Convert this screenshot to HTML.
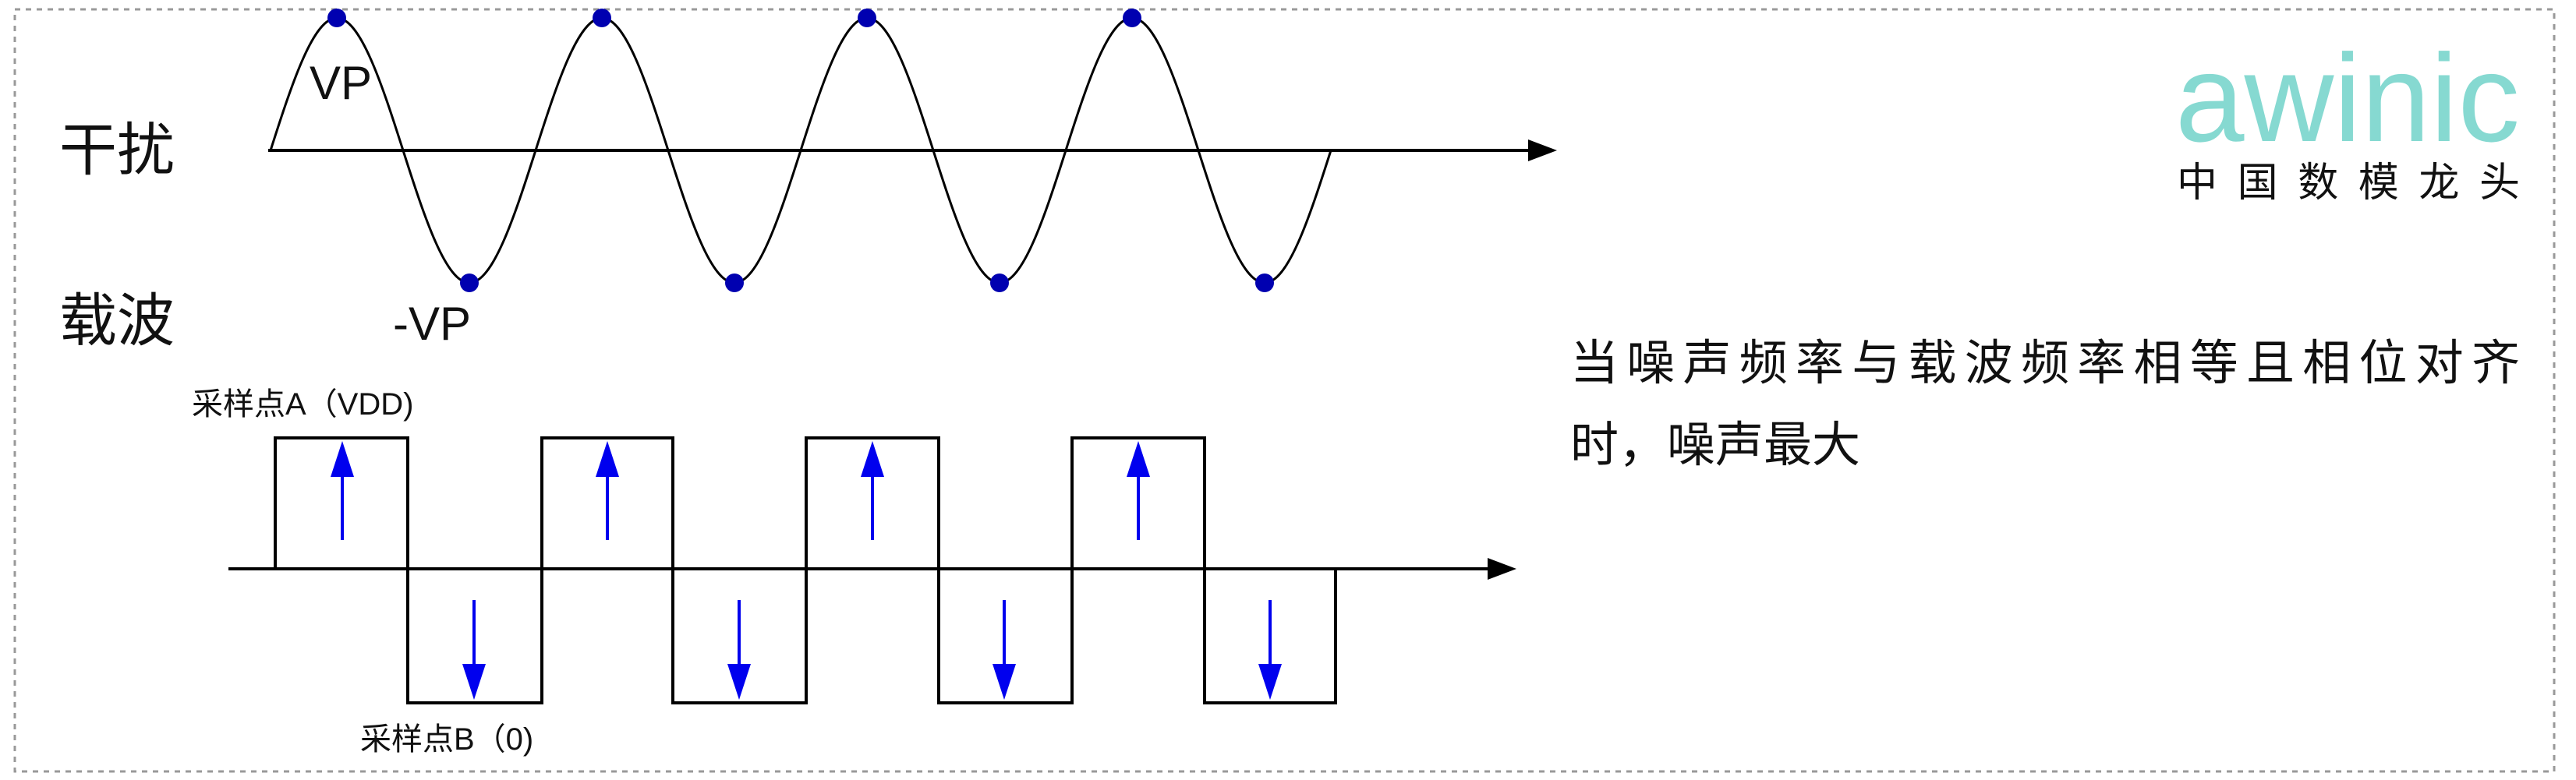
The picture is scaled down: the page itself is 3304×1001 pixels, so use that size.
<!DOCTYPE html>
<html><head><meta charset="utf-8"><style>
html,body{margin:0;padding:0;background:#fff;}
svg{display:block;}
</style></head><body>
<svg width="3304" height="1001" viewBox="0 0 3304 1001" xmlns="http://www.w3.org/2000/svg">
<rect x="19" y="12" width="3257" height="978" fill="none" stroke="#999" stroke-width="3" stroke-dasharray="7 7"/>
<!-- sine axis -->
<line x1="344" y1="193" x2="1965" y2="193" stroke="#000" stroke-width="4"/>
<polygon points="1997,193 1960,179 1960,207" fill="#000"/>
<path d="M347,193
c27.8,-87.2 55.1,-170 85,-170 c29.9,0 57.2,82.8 85,170 c27.8,87.2 55.1,170 85,170 c29.9,0 57.2,-82.8 85,-170
c27.8,-87.2 55.1,-170 85,-170 c29.9,0 57.2,82.8 85,170 c27.8,87.2 55.1,170 85,170 c29.9,0 57.2,-82.8 85,-170
c27.8,-87.2 55.1,-170 85,-170 c29.9,0 57.2,82.8 85,170 c27.8,87.2 55.1,170 85,170 c29.9,0 57.2,-82.8 85,-170
c27.8,-87.2 55.1,-170 85,-170 c29.9,0 57.2,82.8 85,170 c27.8,87.2 55.1,170 85,170 c29.9,0 57.2,-82.8 85,-170"
 fill="none" stroke="#000" stroke-width="3"/>
<g fill="#0000b0">
<circle cx="432" cy="23" r="12"/><circle cx="772" cy="23" r="12"/><circle cx="1112" cy="23" r="12"/><circle cx="1452" cy="23" r="12"/>
<circle cx="602" cy="363" r="12"/><circle cx="942" cy="363" r="12"/><circle cx="1282" cy="363" r="12"/><circle cx="1622" cy="363" r="12"/>
</g>
<g font-family="'Liberation Sans','Noto Sans CJK SC',sans-serif" fill="#111">
<text x="76" y="218" font-size="74">干扰</text>
<text x="76" y="437" font-size="74">载波</text>
<text x="397" y="127" font-size="60">VP</text>
<text x="504" y="436" font-size="60">-VP</text>
<text x="246" y="532" font-size="40">采样点A（VDD)</text>
<text x="462" y="962" font-size="40">采样点B（0)</text>
</g>
<!-- square wave -->
<line x1="293" y1="730" x2="1915" y2="730" stroke="#000" stroke-width="4"/>
<polygon points="1945,730 1908,716 1908,744" fill="#000"/>
<path d="M353,730 V562 H523 V902 H695 V562 H863 V902 H1034 V562 H1204 V902 H1375 V562 H1545 V902 H1713 V730" fill="none" stroke="#000" stroke-width="4"/>
<g stroke="#0000ee" stroke-width="4">
<line x1="439" y1="693" x2="439" y2="600"/><line x1="779" y1="693" x2="779" y2="600"/><line x1="1119" y1="693" x2="1119" y2="600"/><line x1="1460" y1="693" x2="1460" y2="600"/>
<line x1="608" y1="770" x2="608" y2="864"/><line x1="948" y1="770" x2="948" y2="864"/><line x1="1288" y1="770" x2="1288" y2="864"/><line x1="1629" y1="770" x2="1629" y2="864"/>
</g>
<g fill="#0000ee">
<polygon points="439,566 424,612 454,612"/><polygon points="779,566 764,612 794,612"/><polygon points="1119,566 1104,612 1134,612"/><polygon points="1460,566 1445,612 1475,612"/>
<polygon points="608,898 593,852 623,852"/><polygon points="948,898 933,852 963,852"/><polygon points="1288,898 1273,852 1303,852"/><polygon points="1629,898 1614,852 1644,852"/>
</g>
<!-- logo -->
<text x="2790" y="181" font-family="'Liberation Sans',sans-serif" font-size="160" fill="#86d9d1" textLength="442" lengthAdjust="spacingAndGlyphs">awinic</text>
<text x="2792" y="252" font-family="'Liberation Sans','Noto Sans CJK SC',sans-serif" font-size="52" fill="#111" textLength="440">中国数模龙头</text>
<g font-family="'Liberation Sans','Noto Sans CJK SC',sans-serif" font-size="62" fill="#111">
<text x="2014" y="487" textLength="1218">当噪声频率与载波频率相等且相位对齐</text>
<text x="2014" y="592">时，噪声最大</text>
</g>
</svg>
</body></html>
